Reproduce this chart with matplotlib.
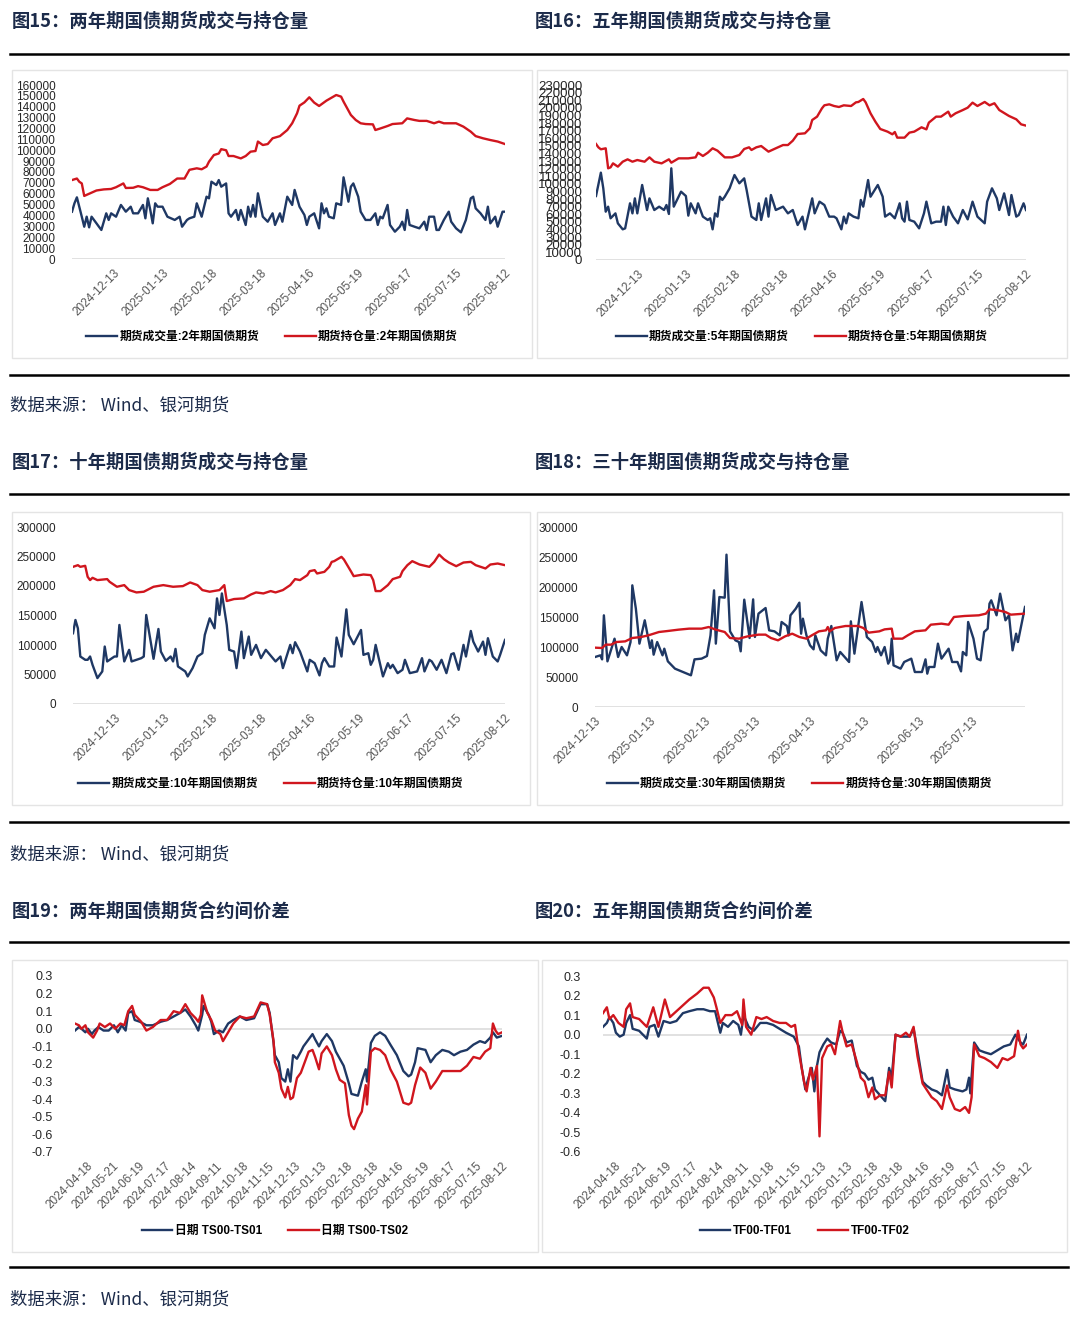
import datetime as dt
import numpy as np
import matplotlib
matplotlib.use("Agg")
import matplotlib.pyplot as plt
import matplotlib.dates as mdates
from matplotlib.lines import Line2D
from matplotlib.patches import Rectangle

plt.rcParams['font.family'] = ['Liberation Sans', 'Noto Sans CJK SC', 'DejaVu Sans']
plt.rcParams['axes.unicode_minus'] = False

# ---------------- data (x = trading-day index unless stated) ----------------
# 2-year futures
ts_vol_day = [0,1,2,4,5,6,7,8,10,11,12,14,15,16,18,20,22,24,25,27,29,30,31,32,33,34,35,37,39,42,
              44,45,47,48,50,51,53,55,56,57,59,60,61,63,64,65,67,68,69,71,72,73,74,75,76,78,80,82,83,85,
              86,88,90,91,93,95,96,97,99,101,102,103,104,105,107,108,110,111,113,114,115,117,118,120,122,124,125,126,127,129,
              130,132,134,135,136,137,138,140,142,144,145,146,148,149,150,152,154,155,157,159,161,163,164,165,167,169,170,171,173,174,
              176,177]
ts_vol = [43500,51200,56700,38900,29700,38900,29100,38900,32800,29700,26700,42000,35900,42000,38900,49700,43500,48100,42000,42000,
          49700,37400,55800,45100,32800,51200,48100,48100,38900,35900,38900,29700,35900,37400,38900,51200,38900,57300,55800,71100,
          68000,72600,66500,69500,42000,38900,45100,35900,45100,31300,48100,38900,49700,38900,60400,38900,34300,42000,31300,42000,
          34300,57300,49700,63500,48100,40500,31300,38900,42000,28200,51200,42000,46600,38900,37400,51200,49700,75100,52700,66500,
          69500,57300,43500,35900,35900,42000,31300,38900,37400,49700,31300,25100,29700,34300,26700,45100,31300,29700,28200,34300,
          26700,38900,38900,26700,26700,35900,43500,34300,28200,24500,35900,55800,57300,46600,42000,35900,48100,32800,38900,29700,
          43500,43500]
ts_oi_day = [0,2,3,4,5,7,10,13,16,18,21,22,25,27,29,32,35,37,40,43,46,48,51,53,55,56,58,60,61,63,64,66,69,71,73,75,76,78,80,82,
             85,88,90,92,93,95,97,99,101,104,108,110,111,114,116,118,120,123,124,126,129,131,135,137,140,142,145,148,150,152,
             157,160,163,165,168,171,174,177]
ts_oi = [72600,74000,71000,69500,58000,60000,63000,64000,64400,66000,69500,65300,65500,67000,66000,63500,63500,66000,69000,74000,
         74000,82000,83400,82500,85000,89500,95600,97000,101000,100000,94700,94700,92500,94700,98700,99300,108000,104800,105700,111000,
         113000,118600,124800,134000,141000,144000,148700,143800,140700,145600,150800,149300,144700,132400,127800,124800,124100,123800,118600,120000,
         122300,124100,124800,129300,127800,127000,127000,124800,126300,124800,124800,121700,117100,113000,111000,109400,108000,105700]

# 5-year futures
tf_vol_day = [0,2,3,4,5,6,8,9,11,12,14,15,16,17,19,21,22,24,26,28,29,30,31,32,35,37,38,39,41,42,
              44,46,47,48,49,50,51,52,53,55,57,59,61,62,64,66,67,68,70,71,72,74,77,79,81,83,85,86,89,90,
              92,94,96,98,99,101,102,103,104,106,108,109,110,112,113,116,118,119,121,123,125,126,127,128,129,131,133,135,136,138,
              140,142,143,144,145,147,149,151,153,155,157,160,161,163,165,166,168,170,171,173,174,176,177]
tf_vol = [84100,114800,94200,63500,70100,54800,61300,48200,40300,41600,74500,61300,81000,61300,98600,65700,81000,65700,70100,65700,
          72300,60500,120500,70100,89800,84100,58300,74500,61300,74500,57000,52600,54800,40300,61300,57000,83200,78900,83200,94200,
          111700,100800,107300,92000,57000,52600,74500,52600,81000,57000,85400,65700,70100,61300,65700,46000,57000,40300,81000,61300,
          76700,72300,57000,57000,54800,40300,57000,48200,61300,57000,54800,78900,70100,105100,83200,98600,83200,57000,61300,54800,
          74500,54800,50400,76700,52600,50400,41600,61300,76700,48200,50400,50400,70100,46000,70100,57000,48200,65700,53400,76700,
          57000,48200,76700,94200,81000,65700,87600,59100,85400,57000,59100,74500,65700]
tf_oi_day = [0,1,2,4,5,6,7,9,11,13,15,17,20,22,24,27,30,31,34,38,41,42,44,46,48,50,53,56,59,61,
             63,64,66,68,71,74,77,79,81,83,86,88,89,91,93,94,96,98,100,102,105,107,108,110,111,113,115,117,120,122,
             123,124,127,129,131,134,136,137,140,142,145,146,148,151,153,155,157,160,162,164,166,170,173,175,177]
tf_oi = [152500,148000,145500,146800,120500,121800,127000,122700,129200,132300,129200,131400,129200,134900,129200,127000,132300,127900,133600,133600,
         134900,141000,136700,141000,146800,143700,134900,134900,138000,145900,148100,144600,148100,149800,142400,146800,151100,151100,156800,165600,
         166500,173000,184000,188400,199300,203300,204600,202400,201100,203300,202400,207200,207700,211600,207200,192800,181800,172200,168700,165200,
         168200,160800,160800,167400,168700,174400,171700,180500,188400,188400,195000,188400,192800,197100,200200,206800,202400,207700,203300,206000,
         197100,189300,184900,178300,176600]

# 10-year futures
t_vol_day = [0,1,2,3,5,6,7,8,10,12,13,14,17,18,19,21,23,24,28,29,30,33,35,36,38,40,41,42,43,46,
             47,49,51,53,54,56,58,59,60,61,63,64,66,67,69,70,72,73,75,77,79,83,85,86,89,90,91,93,96,97,
             99,101,102,103,105,107,108,110,112,113,115,118,119,121,122,123,124,127,129,130,131,133,135,136,138,141,143,144,146,147,
             149,151,153,155,156,158,160,161,163,164,166,168,169,170,172,174,175,177]
t_vol = [119900,142400,128300,80500,74900,74900,80500,66400,43900,55200,97400,72100,80500,80500,134000,72100,91800,72100,77700,80500,
         150900,76600,127200,88900,73200,80500,72100,93400,63600,55200,46700,60800,80500,86100,117100,145200,128300,179000,150900,187400,
         134000,91800,88900,60800,122700,77700,114300,83300,100200,77700,91800,72100,80500,60800,100200,86100,104700,88900,55200,74900,
         69200,48400,69200,77700,63600,63600,112600,80500,160400,117100,101300,125500,83300,86100,66400,74900,100200,46700,69200,60800,
         66400,52300,58000,74900,52300,55200,77700,55200,74900,72100,58000,74900,52300,84400,86100,58000,100200,80500,123800,105800,
         88900,105800,83300,111500,80500,72100,83300,108600]
t_oi_day = [0,2,3,5,6,7,8,10,14,15,18,21,23,26,29,33,37,41,45,48,51,53,56,60,62,63,66,70,73,75,
            78,81,83,86,89,91,93,96,97,99,100,103,105,106,107,110,111,114,115,119,122,123,124,126,129,131,134,135,137,139,
            142,146,148,150,152,154,157,160,163,165,169,171,174,177]
t_oi = [232500,235300,232500,234200,215600,210000,213900,210000,211700,207100,198700,201500,193100,189100,190300,198700,201500,198700,199800,206000,
        201500,193100,190300,193100,201500,174500,177900,179000,185800,189100,187400,191400,189100,193100,201500,211700,210000,218400,225200,226900,
        221200,224000,232500,240900,242100,249400,244900,224000,216700,219500,218400,210000,191400,191400,201500,211700,215600,225200,235300,242100,
        236400,232500,240900,253300,245400,239800,233600,239800,240900,235300,229700,236400,238100,235300]
vol_ticks = ['2024-12-13', '2025-01-13', '2025-02-18', '2025-03-18', '2025-04-16',
             '2025-05-19', '2025-06-17', '2025-07-15', '2025-08-12']

# 30-year futures (x = calendar days after 2024-12-13)
tl_start = dt.datetime(2024, 12, 13)
tl_vol_day = [0,3,4,5,7,11,13,15,18,20,21,23,25,28,31,32,33,35,38,39,41,45,54,56,60,63,65,67,68,70,
              73,74,76,79,81,82,84,87,89,90,92,96,98,101,104,105,108,109,110,113,115,116,117,119,121,123,124,127,130,131,
              133,136,138,143,144,146,150,153,156,158,159,161,163,165,166,167,168,172,174,178,180,184,186,187,188,191,193,195,199,201,
              204,206,207,209,210,213,215,217,219,221,222,223,226,228,231,233,235,237,238,242]
tl_vol = [83300,86100,79400,152800,76100,113900,83300,100000,86100,108300,202800,163900,105600,144500,98300,111100,87200,108300,86100,97200,
          76100,63900,52800,79400,80600,85000,119400,194400,105600,183300,182200,253900,126100,111100,108300,92800,178900,115000,179400,116700,
          155600,165000,127800,126100,119400,141700,135000,119400,152800,163900,173900,122200,147200,119400,102800,96100,119400,94400,86100,113900,
          135000,77800,91700,75000,142800,88900,175000,116700,108300,91700,100000,86100,100000,72200,77800,113900,69400,63900,75000,80600,
          58300,58300,79400,55600,66700,66700,105600,80600,97200,75000,75000,59400,91700,86100,141700,113900,80600,77800,125000,130600,
          172200,177800,152800,188900,144500,152800,94400,122200,108300,166700]
tl_oi_day = [0,4,6,9,12,17,21,26,30,36,41,47,53,60,64,68,73,76,81,86,92,96,99,103,107,111,115,119,122,126,
             130,131,132,135,141,148,151,154,160,163,167,168,173,176,180,186,189,195,199,202,208,216,220,222,227,231,234,242]
tl_oi = [98900,98300,103900,103900,108300,109400,115000,116700,119400,125000,126700,128900,130600,130600,133300,128900,125000,115000,113900,117800,
         120600,120600,115000,111100,117800,122200,116700,113900,119400,126100,127800,133300,126100,131700,135000,135000,131700,123900,126100,129400,
         130600,113900,113900,119400,126100,127800,137200,138900,137200,150000,151700,152800,155600,162800,161100,158300,153900,155600]
tl_ticks = ['2024-12-13', '2025-01-13', '2025-02-13', '2025-03-13',
            '2025-04-13', '2025-05-13', '2025-06-13', '2025-07-13']
tl_end = dt.datetime(2025, 8, 12)

# spreads (x = trading-day index)
ts01_day = [0,3,5,8,10,13,15,18,22,26,30,33,36,39,41,44,46,50,55,60,66,71,76,81,85,89,93,95,98,99,
            103,105,107,111,114,118,122,127,132,138,143,148,150,153,154,157,159,162,164,166,168,171,174,176,180,183,185,188,190,194,
            198,201,207,211,213,218,221,224,225,228,231,235,239,243,248,253,257,259,262,264,270,274,278,283,288,292,297,302,307,312,
            316,320,322,325,329]
ts01 = [-0.01,0.01,0.00,-0.02,0.00,-0.03,-0.01,0.01,-0.01,-0.01,0.02,-0.02,0.02,-0.01,0.09,0.10,0.05,0.04,0.02,0.02,
        0.04,0.05,0.07,0.09,0.11,0.07,0.02,-0.01,0.08,0.13,0.08,0.04,-0.03,-0.01,-0.02,0.03,0.05,0.07,0.05,0.06,
        0.14,0.14,0.09,-0.08,-0.15,-0.19,-0.28,-0.30,-0.23,-0.30,-0.15,-0.17,-0.13,-0.10,-0.06,-0.03,-0.06,-0.10,-0.07,-0.03,
        -0.07,-0.13,-0.21,-0.31,-0.37,-0.38,-0.30,-0.23,-0.30,-0.08,-0.04,-0.02,-0.04,-0.09,-0.15,-0.24,-0.27,-0.26,-0.19,-0.11,
        -0.12,-0.19,-0.15,-0.12,-0.13,-0.15,-0.13,-0.12,-0.09,-0.07,-0.08,-0.05,-0.02,-0.05,-0.04]
ts02_day = [0,3,5,8,10,14,17,19,23,27,31,35,38,41,44,46,51,55,60,66,71,76,81,85,89,93,95,97,98,102,
            105,108,112,114,118,122,127,132,138,143,148,150,153,154,157,159,162,164,166,168,171,174,176,180,183,185,188,190,194,198,
            201,204,208,211,213,215,218,221,224,225,228,231,235,239,243,248,253,257,259,262,266,270,274,278,283,288,292,297,302,307,
            312,316,320,322,324,326,329]
ts02 = [0.03,0.02,0.00,0.02,-0.02,-0.05,-0.01,0.03,0.01,0.03,0.00,0.03,0.02,0.10,0.13,0.08,0.04,-0.01,0.01,0.05,
        0.05,0.10,0.09,0.14,0.09,0.06,0.04,0.08,0.19,0.09,0.05,-0.01,-0.03,-0.07,-0.02,0.03,0.07,0.06,0.07,0.15,
        0.14,0.08,-0.07,-0.19,-0.25,-0.34,-0.39,-0.33,-0.40,-0.39,-0.28,-0.25,-0.21,-0.13,-0.12,-0.16,-0.23,-0.14,-0.10,-0.15,
        -0.23,-0.29,-0.31,-0.49,-0.55,-0.57,-0.51,-0.47,-0.32,-0.43,-0.13,-0.11,-0.12,-0.15,-0.23,-0.30,-0.42,-0.43,-0.42,-0.32,
        -0.22,-0.25,-0.34,-0.30,-0.24,-0.24,-0.24,-0.24,-0.21,-0.16,-0.17,-0.13,-0.11,0.03,-0.01,-0.03,-0.02]
tf01_day = [0,3,5,8,10,13,16,18,21,23,28,34,36,40,43,47,52,57,62,67,73,78,83,87,91,93,97,101,105,107,
            109,113,117,122,127,132,137,142,148,152,154,157,159,162,164,166,168,171,174,177,181,184,186,189,193,197,200,203,206,209,
            211,215,219,222,224,227,231,235,238,241,244,248,251,255,259,263,267,269,273,279,282,284,285,288,292,296,301,306,311,316,
            320,324,326,329]
tf01 = [0.04,0.06,0.09,0.06,0.01,-0.01,0.00,0.06,0.10,0.03,0.02,-0.02,0.04,0.05,-0.01,0.07,0.06,0.07,0.11,0.12,
        0.13,0.13,0.12,0.12,0.01,0.06,0.04,0.07,0.05,0.00,0.10,0.04,0.02,0.06,0.06,0.05,0.03,0.01,-0.01,-0.06,
        -0.16,-0.28,-0.23,-0.17,-0.29,-0.16,-0.09,-0.05,-0.02,-0.04,-0.05,0.02,0.01,-0.04,-0.03,-0.16,-0.19,-0.20,-0.23,-0.22,
        -0.28,-0.31,-0.34,-0.17,-0.22,0.00,-0.01,-0.01,-0.01,0.03,-0.08,-0.24,-0.26,-0.28,-0.29,-0.31,-0.18,-0.27,-0.28,-0.29,
        -0.28,-0.22,-0.30,-0.04,-0.08,-0.09,-0.10,-0.08,-0.06,-0.05,0.00,-0.04,-0.05,0.00]
tf02_day = [0,3,5,8,12,16,18,21,23,28,34,39,43,48,52,57,62,67,73,78,82,86,88,91,95,100,104,108,109,111,
            115,119,123,127,132,137,142,146,149,152,156,158,161,163,166,168,170,174,177,180,184,186,189,193,197,200,203,206,209,211,
            215,219,222,224,227,231,235,238,241,244,248,251,255,259,263,267,269,273,277,281,284,286,288,292,296,301,306,310,314,319,
            322,324,326,329]
tf02 = [0.11,0.14,0.08,0.10,0.06,0.04,0.13,0.16,0.09,0.08,0.04,0.14,0.04,0.18,0.09,0.12,0.15,0.18,0.21,0.24,
        0.24,0.19,0.14,0.06,0.10,0.10,0.12,0.05,0.18,0.04,0.00,0.09,0.08,0.09,0.07,0.06,0.06,0.04,0.05,-0.09,
        -0.24,-0.29,-0.17,-0.23,-0.16,-0.52,-0.12,-0.06,-0.05,-0.10,0.07,0.01,-0.06,-0.05,-0.14,-0.22,-0.24,-0.32,-0.27,-0.33,
        -0.31,-0.31,-0.19,-0.27,0.00,-0.01,0.01,-0.01,0.04,-0.11,-0.25,-0.28,-0.32,-0.34,-0.38,-0.26,-0.32,-0.38,-0.39,-0.37,
        -0.40,-0.32,-0.05,-0.11,-0.12,-0.14,-0.17,-0.12,-0.13,-0.11,0.02,-0.05,-0.07,-0.05]
spread_ticks = ['2024-04-18', '2024-05-21', '2024-06-19', '2024-07-17', '2024-08-14', '2024-09-11',
                '2024-10-18', '2024-11-15', '2024-12-13', '2025-01-13', '2025-02-18', '2025-03-18',
                '2025-04-16', '2025-05-19', '2025-06-17', '2025-07-15', '2025-08-12']

for a, b in [(ts_vol_day, ts_vol), (ts_oi_day, ts_oi), (tf_vol_day, tf_vol), (tf_oi_day, tf_oi),
             (t_vol_day, t_vol), (t_oi_day, t_oi), (tl_vol_day, tl_vol), (tl_oi_day, tl_oi),
             (ts01_day, ts01), (ts02_day, ts02), (tf01_day, tf01), (tf02_day, tf02)]:
    assert len(a) == len(b), (len(a), len(b))

# ---------------- drawing ----------------
W, H = 1080, 1326
BLUE = '#1F3864'
RED = '#D0161E'
NAVY = '#1C2B4A'

fig = plt.figure(figsize=(W / 100, H / 100), dpi=100)


def frect(x0, y0, x1, y1):
    return [x0 / W, 1 - y1 / H, (x1 - x0) / W, (y1 - y0) / H]


def hline(y, x0=10, x1=1068):
    fig.add_artist(Line2D([x0 / W, x1 / W], [1 - y / H] * 2, color='black', lw=1.8))


def panel(box, area, blue, red, labels, ylim, yticks, yfmt, xlim, xticks, xlabels, leg_y,
          ypad=7, ysize=8.5):
    x0, y0, x1, y1 = box
    fig.add_artist(Rectangle((x0 / W, 1 - y1 / H), (x1 - x0) / W, (y1 - y0) / H,
                             transform=fig.transFigure, fill=False, ec='#E4E4E4', lw=1))
    ax = fig.add_axes(frect(*area))
    ax.patch.set_alpha(0)
    ax.axhline(0, color='#D9D9D9', lw=1.1, zorder=1)
    hb, = ax.plot(blue[0], blue[1], color=BLUE, lw=1.7, zorder=3)
    hr, = ax.plot(red[0], red[1], color=RED, lw=1.7, zorder=3)
    ax.set_xlim(*xlim)
    ax.set_ylim(*ylim)
    for s in ax.spines.values():
        s.set_visible(False)
    ax.set_yticks(yticks)
    ax.set_yticklabels([yfmt(v) for v in yticks])
    ax.set_xticks(xticks)
    ax.set_xticklabels(xlabels, rotation=45, ha='right', va='top', rotation_mode='anchor')
    ax.tick_params(axis='y', length=0, labelsize=ysize, labelcolor='#262626', pad=ypad)
    ax.tick_params(axis='x', length=0, labelsize=8.5, labelcolor='#555555', pad=6)
    fig.legend([hb, hr], labels, loc='center', bbox_to_anchor=((x0 + x1) / 2 / W, 1 - leg_y / H),
               ncol=2, frameon=False, handlelength=2.6, columnspacing=2.2, handletextpad=0.2,
               prop={'size': 8.5, 'weight': 'bold'})
    return ax


def title(x, y, s):
    fig.text(x / W, 1 - y / H, s, ha='left', va='center', fontsize=13.2, fontweight='bold',
             color=NAVY, family=['Noto Sans CJK SC', 'DejaVu Sans'])


def source(y):
    fig.text(10 / W, 1 - y / H, '数据来源： Wind、银河期货', ha='left', va='center', fontsize=12.5,
             color=NAVY, family=['Noto Sans CJK SC', 'DejaVu Sans'])


int_fmt = lambda v: '%d' % v
dec_fmt = lambda v: '%.1f' % (0.0 if abs(v) < 1e-9 else v)
vol_tick_pos = [17 + 20 * k for k in range(len(vol_ticks))]
spread_tick_pos = [9 + 20 * k for k in range(len(spread_ticks))]

# row 1
title(12, 21, '图15：两年期国债期货成交与持仓量')
title(535, 21, '图16：五年期国债期货成交与持仓量')
hline(54)
panel((12, 70, 532, 358), (72, 85, 505, 259), (ts_vol_day, ts_vol), (ts_oi_day, ts_oi),
      ['期货成交量:2年期国债期货', '期货持仓量:2年期国债期货'],
      (0, 160000), list(range(0, 160001, 10000)), int_fmt, (0, 177), vol_tick_pos, vol_ticks, 337, ypad=12)
panel((537, 70, 1067, 358), (596, 85, 1026, 260), (tf_vol_day, tf_vol), (tf_oi_day, tf_oi),
      ['期货成交量:5年期国债期货', '期货持仓量:5年期国债期货'],
      (0, 230000), list(range(0, 230001, 10000)), int_fmt, (0, 177), vol_tick_pos, vol_ticks, 337,
      ypad=10, ysize=9.5)
hline(375)
source(406)

# row 2
title(12, 462, '图17：十年期国债期货成交与持仓量')
title(535, 462, '图18：三十年期国债期货成交与持仓量')
hline(494)
panel((12, 512, 530, 805), (73, 527, 505, 704), (t_vol_day, t_vol), (t_oi_day, t_oi),
      ['期货成交量:10年期国债期货', '期货持仓量:10年期国债期货'],
      (0, 300000), list(range(0, 300001, 50000)), int_fmt, (0, 177), vol_tick_pos, vol_ticks, 784, ypad=12)
tl_vx = mdates.date2num([tl_start + dt.timedelta(days=d) for d in tl_vol_day])
tl_ox = mdates.date2num([tl_start + dt.timedelta(days=d) for d in tl_oi_day])
tl_tx = mdates.date2num([dt.datetime.strptime(s, '%Y-%m-%d') for s in tl_ticks])
panel((537, 512, 1062, 805), (595, 527, 1025, 707), (tl_vx, tl_vol), (tl_ox, tl_oi),
      ['期货成交量:30年期国债期货', '期货持仓量:30年期国债期货'],
      (0, 300000), list(range(0, 300001, 50000)), int_fmt,
      (mdates.date2num(tl_start), mdates.date2num(tl_end)), tl_tx, tl_ticks, 784, ypad=12)
hline(822)
source(855)

# row 3
title(12, 911, '图19：两年期国债期货合约间价差')
title(535, 911, '图20：五年期国债期货合约间价差')
hline(942)
panel((12, 960, 538, 1252), (75, 976, 502, 1152), (ts01_day, ts01), (ts02_day, ts02),
      ['日期 TS00-TS01', '日期 TS00-TS02'],
      (-0.7, 0.3), list(np.round(np.arange(-0.7, 0.31, 0.1), 1)), dec_fmt, (0, 329),
      spread_tick_pos, spread_ticks, 1231, ypad=16, ysize=9)
panel((542, 960, 1067, 1252), (603, 976, 1027, 1152), (tf01_day, tf01), (tf02_day, tf02),
      ['TF00-TF01', 'TF00-TF02'],
      (-0.6, 0.3), list(np.round(np.arange(-0.6, 0.31, 0.1), 1)), dec_fmt, (0, 329),
      spread_tick_pos, spread_ticks, 1231, ypad=16, ysize=9)
hline(1267)
source(1300)

fig.savefig('out.png', dpi=100)
